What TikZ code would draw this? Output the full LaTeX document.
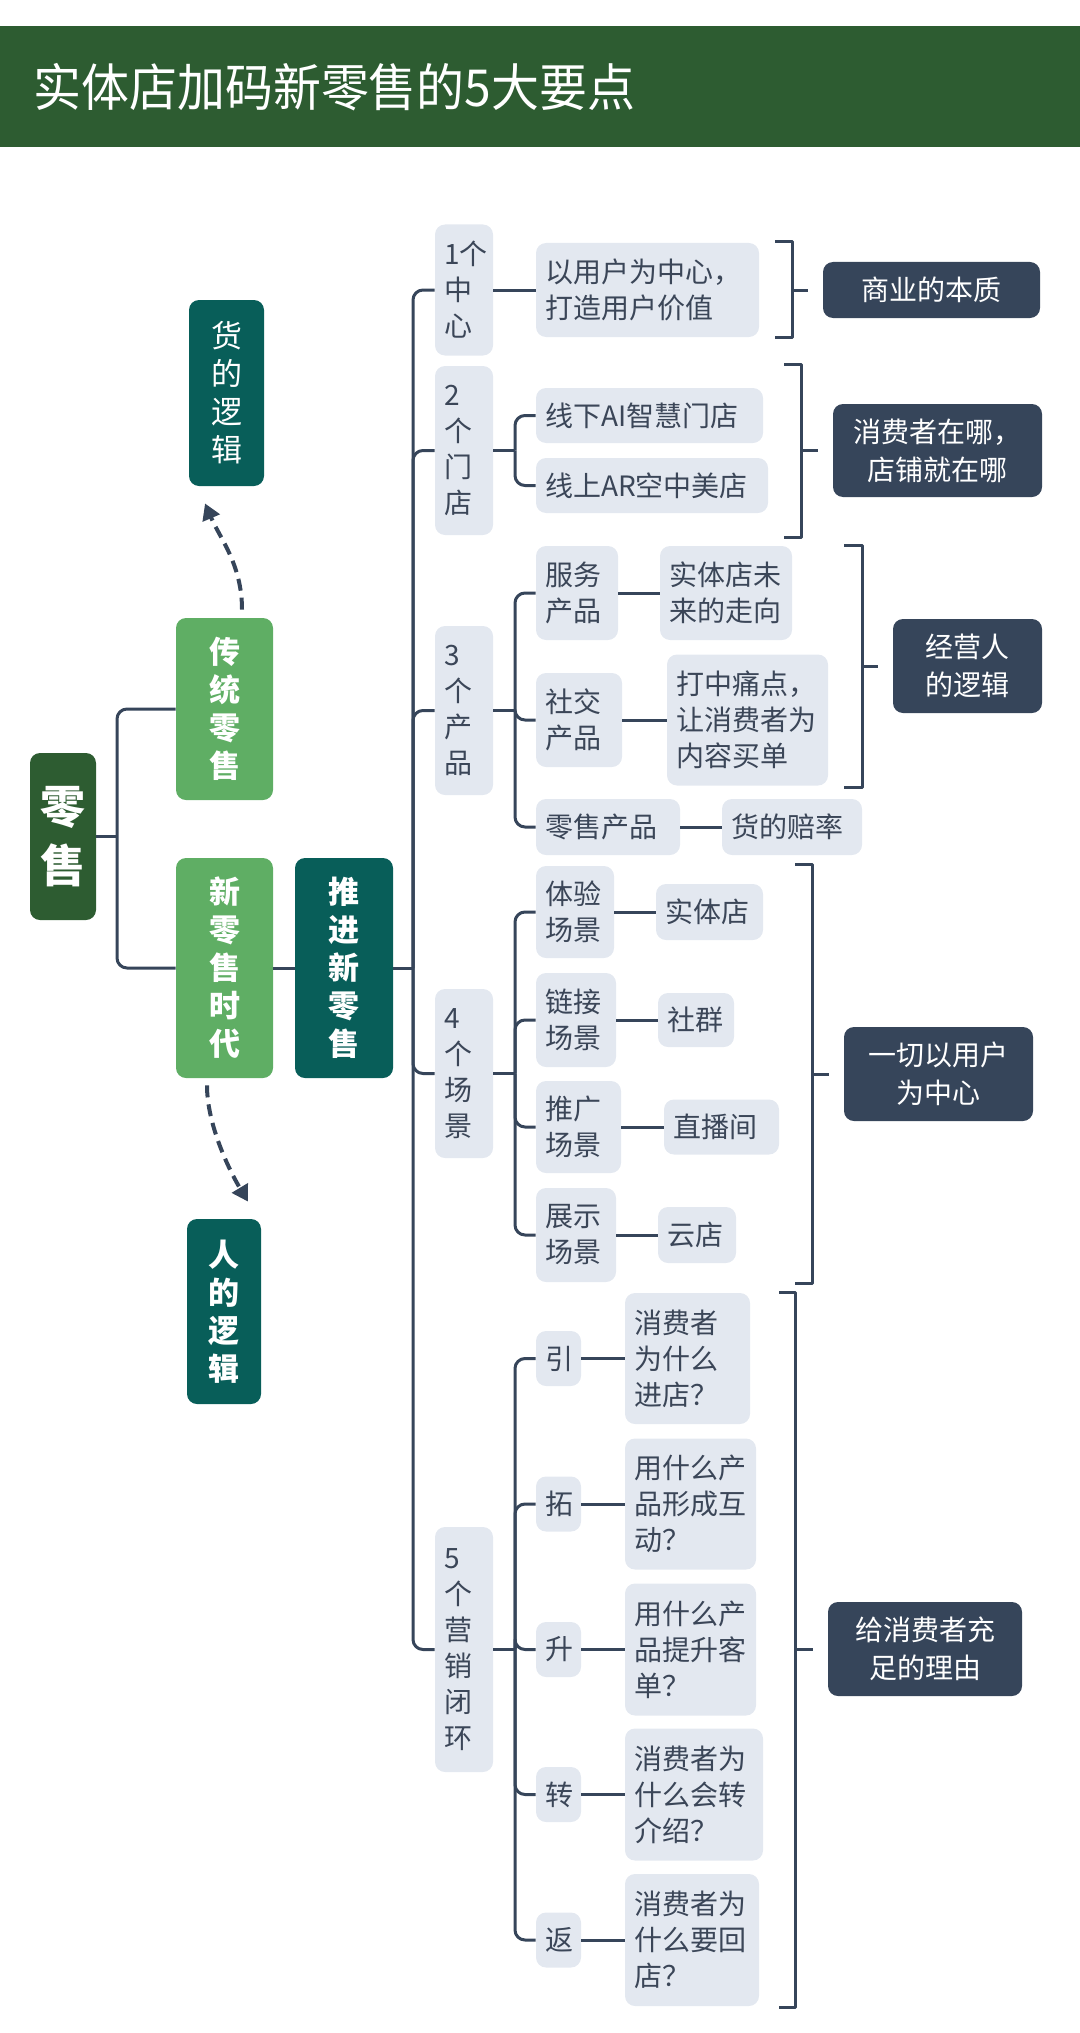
\documentclass[tikz,border=0pt]{standalone}
\usepackage{fontspec}
\setmainfont{Noto Sans CJK SC}
\newfontfamily\titlefont[FakeStretch=0.94]{Noto Sans CJK SC}
\usetikzlibrary{arrows.meta}
\definecolor{hdrgreen}{HTML}{2D5C31}
\definecolor{leafgreen}{HTML}{5FAE64}
\definecolor{deepteal}{HTML}{085E59}
\definecolor{slate}{HTML}{36455A}
\definecolor{pale}{HTML}{E3E8F0}
\definecolor{ink}{HTML}{3B4658}
\tikzset{
  box/.style 2 args={rounded corners=5pt,inner sep=0pt,minimum width=#1*0.5pt,minimum height=#2*0.5pt},
  pl/.style 2 args={box={#1}{#2},fill=pale,text=ink,align=left,text width=(#1-18)*0.5pt,font=\fontsize{14}{18}\selectfont},
  dk/.style 2 args={box={#1}{#2},fill=slate,text=white,align=center,font=\fontsize{14}{19}\selectfont},
  vert/.style 2 args={box={#1}{#2},text=white,align=center,font=\bfseries\fontsize{15.5}{19}\selectfont},
  lnk/.style={draw=slate,line width=1.5pt},
  dasharrow/.style={draw=slate,line width=2pt,dash pattern=on 6pt off 3.5pt,-{Triangle[length=8pt,width=9pt]}},
}
\begin{document}
\begin{tikzpicture}[x=0.5pt,y=-0.5pt,line join=round]
\useasboundingbox (0,0) rectangle (1080,2033);
% header
\fill[hdrgreen] (0,26) rectangle (1080,147);
\node[anchor=west,inner sep=0pt,text=white,font=\titlefont\fontsize{25.5}{30}\selectfont] (title) at (33,87) {实体店加码新零售的5大要点};

% left part
\node[box={66}{167},fill=hdrgreen,text=white,align=center,font=\bfseries\fontsize{22.5}{29.5}\selectfont] (ls) at (63,836.5) {零\\售};
\node[vert={97}{182},fill=leafgreen] (ct) at (224.5,709) {传\\统\\零\\售};
\node[vert={97}{220},fill=leafgreen] (xls) at (224.5,968) {新\\零\\售\\时\\代};
\node[vert={98}{220},fill=deepteal] (tj) at (344,968) {推\\进\\新\\零\\售};
\node[vert={75}{186},fill=deepteal,font=\fontsize{15.5}{19}\selectfont] (hl) at (226.5,393) {货\\的\\逻\\辑};
\node[vert={74}{185},fill=deepteal] (rl) at (224,1311.5) {人\\的\\逻\\辑};

% level 1
\node[pl={58}{131}] (c1) at (464,290) {1个\\中\\心};
\node[pl={58}{169}] (c2) at (464,450.5) {2\\个\\门\\店};
\node[pl={58}{169}] (c3) at (464,710.5) {3\\个\\产\\品};
\node[pl={58}{169}] (c4) at (464,1073.5) {4\\个\\场\\景};
\node[pl={58}{245}] (c5) at (464,1649.5) {5\\个\\营\\销\\闭\\环};

% level 2 and 3
\node[pl={223}{94}] (a1) at (647.5,290) {以用户为中心，\\打造用户价值};
\node[pl={227}{55}] (b1) at (649.5,415.5) {线下AI智慧门店};
\node[pl={232}{55}] (b2) at (652,485.5) {线上AR空中美店};
\node[pl={82}{94}] (p1) at (577,593) {服务\\产品};
\node[pl={86}{94}] (p2) at (579,720) {社交\\产品};
\node[pl={144}{56}] (p3) at (608,827) {零售产品};
\node[pl={132}{94}] (q1) at (726,593) {实体店未\\来的走向};
\node[pl={161}{131}] (q2) at (747.5,720) {打中痛点，\\让消费者为\\内容买单};
\node[pl={140}{56}] (q3) at (792,827) {货的赔率};
\node[pl={78}{92}] (s1) at (575,912) {体验\\场景};
\node[pl={80}{94}] (s2) at (576,1020) {链接\\场景};
\node[pl={85}{92}] (s3) at (578.5,1127) {推广\\场景};
\node[pl={80}{94}] (s4) at (576,1235) {展示\\场景};
\node[pl={107}{56}] (t1) at (709.5,912) {实体店};
\node[pl={76}{54}] (t2) at (696,1020) {社群};
\node[pl={115}{55}] (t3) at (721.5,1127) {直播间};
\node[pl={78}{56}] (t4) at (697,1235) {云店};
\node[pl={45}{55}] (m1) at (558.5,1358.5) {引};
\node[pl={45}{55}] (m2) at (558.5,1504) {拓};
\node[pl={45}{55}] (m3) at (558.5,1649.5) {升};
\node[pl={45}{55}] (m4) at (558.5,1794.5) {转};
\node[pl={45}{55}] (m5) at (558.5,1940) {返};
\node[pl={125}{131}] (n1) at (687.5,1358.5) {消费者\\为什么\\进店？};
\node[pl={131}{131}] (n2) at (690.5,1504) {用什么产\\品形成互\\动？};
\node[pl={131}{132}] (n3) at (690.5,1649.5) {用什么产\\品提升客\\单？};
\node[pl={138}{132}] (n4) at (694,1794.5) {消费者为\\什么会转\\介绍？};
\node[pl={134}{132}] (n5) at (692,1940) {消费者为\\什么要回\\店？};

% summaries
\node[dk={217}{56}] (d1) at (931.5,290) {商业的本质};
\node[dk={209}{93}] (d2) at (937.5,450.5) {消费者在哪，\\店铺就在哪};
\node[dk={149}{94}] (d3) at (967.5,666) {经营人\\的逻辑};
\node[dk={189}{94}] (d4) at (938.5,1074) {一切以用户\\为中心};
\node[dk={194}{94}] (d5) at (925,1649) {给消费者充\\足的理由};

% junctions
\path (117,836.5) coordinate (lj)
      (413,968) coordinate (mj)
      (515,450.5) coordinate (j2)
      (515,710.5) coordinate (j3)
      (515,1073.5) coordinate (j4)
      (515,1649.5) coordinate (j5);

% connectors
\draw[lnk] (ls.east) -- (lj) (xls.east) -- (tj.west) (tj.east) -- (mj);
\draw[lnk,rounded corners=5pt] (lj) |- (ct.west) (lj) |- (xls.west);
\foreach \c in {c1,c2,c3,c4,c5}
  \draw[lnk,rounded corners=5pt] (mj) |- (\c.west);
\draw[lnk] (c1.east) -- (a1.west) (c2.east) -- (j2) (c3.east) -- (j3) (c4.east) -- (j4) (c5.east) -- (j5);
\foreach \b in {b1,b2}
  \draw[lnk,rounded corners=5pt] (j2) |- (\b.west);
\foreach \i in {1,2,3} {
  \draw[lnk,rounded corners=5pt] (j3) |- (p\i.west);
  \draw[lnk] (p\i.east) -- (q\i.west);
}
\foreach \i in {1,...,4} {
  \draw[lnk,rounded corners=5pt] (j4) |- (s\i.west);
  \draw[lnk] (s\i.east) -- (t\i.west);
}
\foreach \i in {1,...,5} {
  \draw[lnk,rounded corners=5pt] (j5) |- (m\i.west);
  \draw[lnk] (m\i.east) -- (n\i.west);
}

% brackets
\foreach \k/\xa/\xb/\ya/\yb/\ym in {1/775/792/242/337/290,2/784/801/364/537/450.5,3/844/862/545/787/666,4/795/812/864/1283/1074,5/779/795/1292/2007/1649}{
  \draw[lnk] (\xa,\ya) -| (\xb,\yb) -- (\xa,\yb);
  \coordinate (k\k) at (\xb,\ym);
}
\foreach \k in {1,...,5}
  \draw[lnk,shorten >=7.5pt] (k\k) -- (d\k.west);

% dashed arrows
\draw[dasharrow] ([shift={(17.5,-8)}]ct.north) .. controls +(0,-45) and +(15,35) .. ([shift={(-21.5,17)}]hl.south);
\draw[dasharrow] ([shift={(-17.5,7)}]xls.south) .. controls +(0,40) and +(-18,-30) .. ([shift={(24,-17)}]rl.north);
\end{tikzpicture}
\end{document}
